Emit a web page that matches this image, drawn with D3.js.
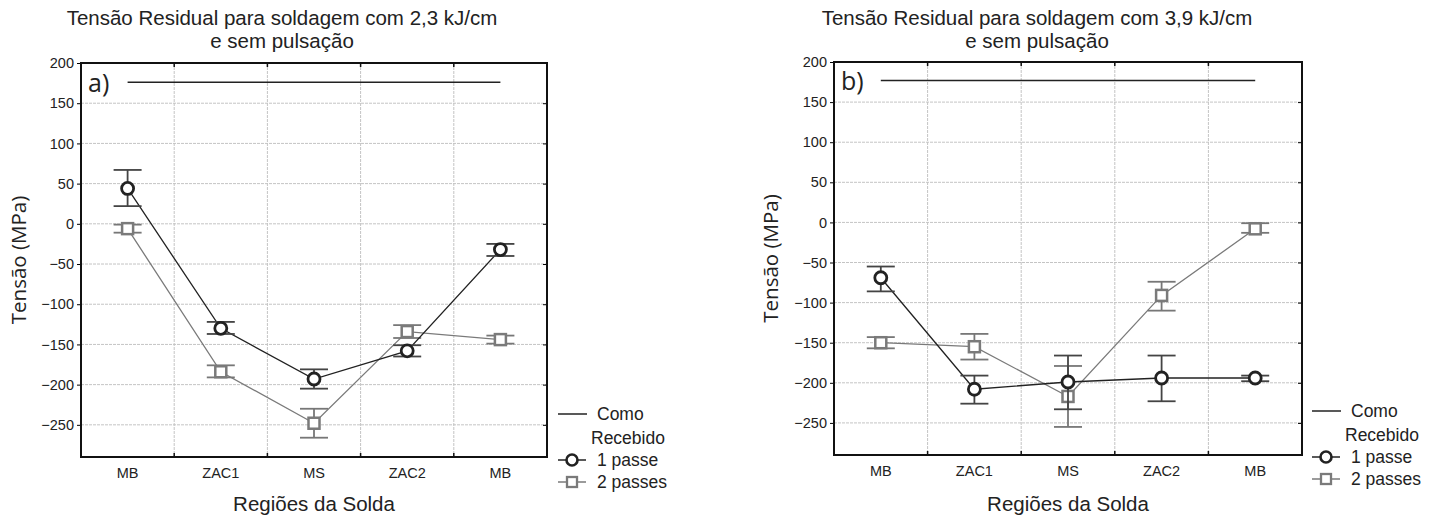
<!DOCTYPE html>
<html>
<head>
<meta charset="utf-8">
<script src="https://cdn.jsdelivr.net/npm/d3@7"></script>
<style>
  body { margin: 0; background: #fff; }
  text { font-family: "Liberation Sans", Arial, sans-serif; fill: #222; }
  .soft { font-family: "Open Sans", "Liberation Sans", sans-serif; }
</style>
</head>
<body>
<div id="chart"></div>
<script>
// regions along the weld (same for both panels)
const regions = ["MB", "ZAC1", "MS", "ZAC2", "MB"];
const yTicks = [200, 150, 100, 50, 0, -50, -100, -150, -200, -250];

// panel a) 2,3 kJ/cm
const aPass1 = [44, -130, -193, -158, -32];
const aPass1Lo = [22, -137, -205, -165, -40];
const aPass1Hi = [67, -122, -181, -151, -25];
const aPass2 = [-6, -184, -248, -134, -144];
const aPass2Lo = [-11, -191, -266, -142, -149];
const aPass2Hi = [-1, -176, -230, -126, -139];
const aAsReceived = 176;

// panel b) 3,9 kJ/cm
const bPass1 = [-69, -208, -199, -194, -194];
const bPass1Lo = [-86, -226, -233, -223, -198];
const bPass1Hi = [-55, -191, -166, -166, -191];
const bPass2 = [-150, -155, -217, -91, -8];
const bPass2Lo = [-157, -171, -255, -110, -13];
const bPass2Hi = [-143, -139, -179, -74, -1];
const bAsReceived = 177;

const width = 1435, height = 517;

const svg = d3.select("#chart")
  .append("svg")
  .attr("width", width)
  .attr("height", height);

function panel(opt) {
  let x = d3.scaleBand()
    .domain(d3.range(regions.length))
    .range([opt.left, opt.right]);

  let y = d3.scaleLinear()
    .domain([-290, 200])
    .range([opt.bottom, opt.top]);

  let cx = i => x(i) + x.bandwidth() / 2;
  let g = svg.append("g");

  // grid
  g.append("g")
    .selectAll("line")
    .data(yTicks.slice(1))
    .join("line")
    .attr("x1", opt.left).attr("x2", opt.right)
    .attr("y1", d => y(d)).attr("y2", d => y(d))
    .attr("stroke", "#c4c4c4")
    .attr("stroke-dasharray", "3,1");

  g.append("g")
    .selectAll("line")
    .data(d3.range(1, regions.length))
    .join("line")
    .attr("x1", d => x(d)).attr("x2", d => x(d))
    .attr("y1", opt.top).attr("y2", opt.bottom)
    .attr("stroke", "#c4c4c4")
    .attr("stroke-dasharray", "3,1");

  // y axis (outward ticks) + right inward ticks
  let ya = g.append("g")
    .attr("transform", `translate(${opt.left},0)`)
    .call(d3.axisLeft(y).tickValues(yTicks).tickSize(4).tickPadding(3));
  ya.select(".domain").remove();
  ya.selectAll("text").style("font-size", "14.5px").attr("fill", "#222");

  g.append("g")
    .attr("transform", `translate(${opt.right},0)`)
    .call(d3.axisRight(y).tickValues(yTicks).tickSize(-4).tickFormat(""))
    .select(".domain").remove();

  // x axis
  let xa = g.append("g")
    .attr("transform", `translate(0,${opt.bottom})`)
    .call(d3.axisBottom(x).tickFormat(i => regions[i]).tickSize(0).tickPadding(11));
  xa.select(".domain").remove();
  xa.selectAll("text").style("font-size", "14.5px").attr("fill", "#222");

  // inward ticks on band boundaries, top and bottom
  for (let yy of [[opt.bottom, -4], [opt.top, 4]]) {
    g.append("g")
      .selectAll("line")
      .data(d3.range(1, regions.length))
      .join("line")
      .attr("x1", d => x(d)).attr("x2", d => x(d))
      .attr("y1", yy[0]).attr("y2", yy[0] + yy[1])
      .attr("stroke", "#111").attr("stroke-width", 1.5);
  }

  // frame
  g.append("rect")
    .attr("x", opt.left).attr("y", opt.top)
    .attr("width", opt.right - opt.left)
    .attr("height", opt.bottom - opt.top)
    .attr("fill", "none")
    .attr("stroke", "#111")
    .attr("stroke-width", 2);

  // como recebido line
  g.append("line")
    .attr("x1", cx(0)).attr("x2", cx(regions.length - 1))
    .attr("y1", y(opt.asReceived)).attr("y2", y(opt.asReceived))
    .attr("stroke", "#222").attr("stroke-width", 1.5);

  g.append("text")
    .attr("class", "soft")
    .attr("x", opt.left + 7)
    .attr("y", y(opt.asReceived) + 10)
    .style("font-size", "25px")
    .text(opt.tag);

  let line = d3.line()
    .x((d, i) => cx(i))
    .y(d => y(d));

  let series = [
    { v: opt.p2, lo: opt.p2Lo, hi: opt.p2Hi, color: "#7a7a7a", shape: "square" },
    { v: opt.p1, lo: opt.p1Lo, hi: opt.p1Hi, color: "#222", shape: "circle" }
  ];

  for (let s of series) {
    g.append("path")
      .datum(s.v)
      .attr("fill", "none")
      .attr("stroke", s.color)
      .attr("stroke-width", 1.3)
      .attr("d", line);

    let eb = g.append("g")
      .attr("stroke", s.shape === "circle" ? "#444" : "#777")
      .attr("stroke-width", 1.8);

    s.v.forEach((v, i) => {
      eb.append("line")
        .attr("x1", cx(i)).attr("x2", cx(i))
        .attr("y1", y(s.lo[i])).attr("y2", y(s.hi[i]));
      for (let e of [s.lo[i], s.hi[i]]) {
        eb.append("line")
          .attr("x1", cx(i) - 14).attr("x2", cx(i) + 14)
          .attr("y1", y(e)).attr("y2", y(e));
      }
    });

    s.v.forEach((v, i) => {
      if (s.shape === "circle") {
        g.append("circle")
          .attr("cx", cx(i)).attr("cy", y(v)).attr("r", 6)
          .attr("fill", "#fff").attr("stroke", s.color).attr("stroke-width", 2.8);
      } else {
        g.append("rect")
          .attr("x", cx(i) - 5.5).attr("y", y(v) - 5.5)
          .attr("width", 11).attr("height", 11)
          .attr("fill", "#fff").attr("stroke", s.color).attr("stroke-width", 2.5);
      }
    });
  }

  // titles
  let t = g.append("text")
    .attr("text-anchor", "middle")
    .style("font-size", "20.5px");
  t.append("tspan").attr("x", opt.titleX).attr("y", 25).text(opt.title);
  t.append("tspan").attr("x", opt.titleX).attr("y", 48).text("e sem pulsação");

  g.append("text")
    .attr("class", "soft")
    .attr("text-anchor", "middle")
    .attr("transform", `translate(${opt.ylabX},${(opt.top + opt.bottom) / 2}) rotate(-90)`)
    .style("font-size", "20.5px")
    .text("Tensão (MPa)");

  g.append("text")
    .attr("text-anchor", "middle")
    .attr("x", (opt.left + opt.right) / 2)
    .attr("y", 511)
    .style("font-size", "20.5px")
    .text("Regiões da Solda");

  // legend
  let lg = g.append("g").attr("transform", `translate(${opt.right + opt.legDx},0)`);
  lg.append("line")
    .attr("x1", 0).attr("x2", 29)
    .attr("y1", opt.legY).attr("y2", opt.legY)
    .attr("stroke", "#222").attr("stroke-width", 1.5);
  lg.append("text").attr("x", 39).attr("y", opt.legY + 6)
    .style("font-size", "17.5px").text("Como");
  lg.append("text").attr("x", 33).attr("y", opt.legY + 30)
    .style("font-size", "17.5px").text("Recebido");

  let items = [
    { label: "1 passe", color: "#222", shape: "circle", dy: 46 },
    { label: "2 passes", color: "#7a7a7a", shape: "square", dy: 68 }
  ];
  for (let it of items) {
    let yy = opt.legY + it.dy;
    lg.append("line")
      .attr("x1", 0).attr("x2", 28)
      .attr("y1", yy).attr("y2", yy)
      .attr("stroke", it.color).attr("stroke-width", 1.5);
    if (it.shape === "circle") {
      lg.append("circle").attr("cx", 14).attr("cy", yy).attr("r", 5.5)
        .attr("fill", "#fff").attr("stroke", it.color).attr("stroke-width", 2.6);
    } else {
      lg.append("rect").attr("x", 9).attr("y", yy - 5).attr("width", 10).attr("height", 10)
        .attr("fill", "#fff").attr("stroke", it.color).attr("stroke-width", 2.3);
    }
    lg.append("text").attr("x", 39).attr("y", yy + 6)
      .style("font-size", "17.5px").text(it.label);
  }
}

panel({
  left: 81, right: 547, top: 63, bottom: 457,
  title: "Tensão Residual para soldagem com 2,3 kJ/cm", titleX: 282, ylabX: 26,
  tag: "a)", asReceived: aAsReceived, legY: 414, legDx: 11,
  p1: aPass1, p1Lo: aPass1Lo, p1Hi: aPass1Hi,
  p2: aPass2, p2Lo: aPass2Lo, p2Hi: aPass2Hi
});

panel({
  left: 834, right: 1302, top: 62, bottom: 455,
  title: "Tensão Residual para soldagem com 3,9 kJ/cm", titleX: 1037, ylabX: 778,
  tag: "b)", asReceived: bAsReceived, legY: 411, legDx: 10,
  p1: bPass1, p1Lo: bPass1Lo, p1Hi: bPass1Hi,
  p2: bPass2, p2Lo: bPass2Lo, p2Hi: bPass2Hi
});
</script>
</body>
</html>
